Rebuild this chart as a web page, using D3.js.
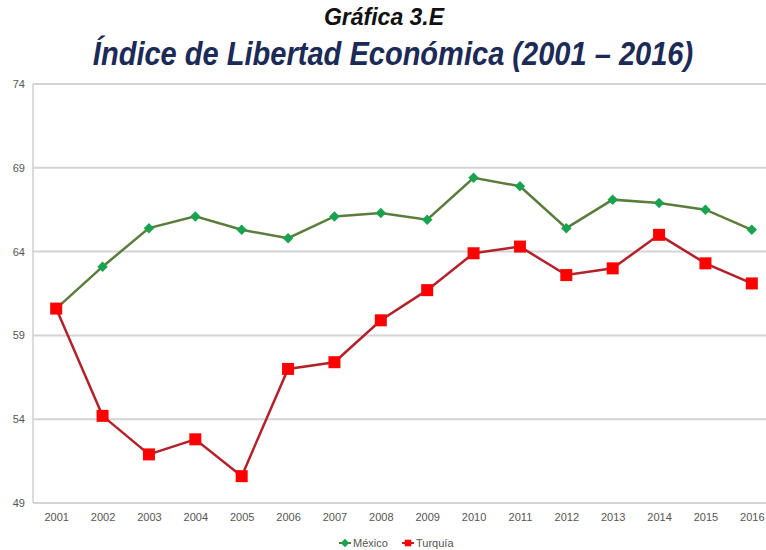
<!DOCTYPE html>
<html>
<head>
<meta charset="utf-8">
<script src="https://cdn.jsdelivr.net/npm/d3@7"></script>
<style>
  body { margin: 0; background: #fff; }
  svg { display: block; }
  .tick text { fill: #555; font-family: "Liberation Sans", Arial, sans-serif; font-size: 11px; }
</style>
</head>
<body>
<div id="chart"></div>
<script>
const years = ['2001','2002','2003','2004','2005','2006','2007','2008','2009','2010','2011','2012','2013','2014','2015','2016'];
const mexico = [60.6, 63.1, 65.4, 66.1, 65.3, 64.8, 66.1, 66.3, 65.9, 68.4, 67.9, 65.4, 67.1, 66.9, 66.5, 65.3];
const turquia = [60.6, 54.2, 51.9, 52.8, 50.6, 57.0, 57.4, 59.9, 61.7, 63.9, 64.3, 62.6, 63.0, 65.0, 63.3, 62.1];
const yTicks = [49, 54, 59, 64, 69, 74];

const width = 766, height = 550;
const margin = {top: 84, right: -9, bottom: 47, left: 33};

const svg = d3.select('#chart').append('svg')
  .attr('width', width).attr('height', height);

const x = d3.scalePoint()
  .domain(years)
  .range([margin.left, width - margin.right])
  .padding(0.5);

const y = d3.scaleLinear()
  .domain([49, 74])
  .range([height - margin.bottom, margin.top]);

// grid
svg.append('g')
  .selectAll('line')
  .data(yTicks)
  .enter()
  .append('line')
  .attr('x1', margin.left).attr('x2', width)
  .attr('y1', d => y(d)).attr('y2', d => y(d))
  .attr('stroke', '#d4d4d4')
  .attr('stroke-width', 2)

svg.append('line')
  .attr('x1', margin.left).attr('x2', margin.left)
  .attr('y1', y(74)).attr('y2', y(49))
  .attr('stroke', '#cfcfcf').attr('stroke-width', 1.5)

// axes
svg.append('g')
  .attr('transform', `translate(${margin.left - 8},0)`)
  .call(d3.axisLeft(y).tickValues(yTicks).tickSize(0).tickPadding(0))
  .call(g => g.select('.domain').remove())

svg.append('g')
  .attr('transform', `translate(0,${y(49) + 8})`)
  .call(d3.axisBottom(x).tickSize(0).tickPadding(2))
  .call(g => g.select('.domain').remove())

const line = d3.line()
  .x((d, i) => x(years[i]))
  .y(d => y(d));

// Mexico
svg.append('path')
  .datum(mexico)
  .attr('d', line)
  .attr('fill', 'none')
  .attr('stroke', '#5b7d3c')
  .attr('stroke-width', 2.5)

svg.append('g')
  .selectAll('path')
  .data(mexico)
  .enter()
  .append('path')
  .attr('d', d3.symbol().type(d3.symbolDiamond2).size(70))
  .attr('transform', (d, i) => `translate(${x(years[i])},${y(d)})`)
  .attr('fill', '#17a350')

// Turquia
svg.append('path')
  .datum(turquia)
  .attr('d', line)
  .attr('fill', 'none')
  .attr('stroke', '#b3222b')
  .attr('stroke-width', 2.5)

svg.append('g')
  .selectAll('rect')
  .data(turquia)
  .enter()
  .append('rect')
  .attr('x', (d, i) => x(years[i]) - 6)
  .attr('y', d => y(d) - 6)
  .attr('width', 12).attr('height', 12)
  .attr('fill', '#ff0000')

// titles
svg.append('text')
  .text('Gráfica 3.E')
  .attr('x', 384).attr('y', 25)
  .attr('text-anchor', 'middle')
  .attr('font-family', '"Liberation Sans", Arial, sans-serif')
  .attr('font-weight', 'bold').attr('font-style', 'italic')
  .attr('font-size', 23)
  .attr('fill', '#111')

// condensed look: squeeze the title horizontally
svg.append('text')
  .text('Índice de Libertad Económica (2001 – 2016)')
  .attr('transform', 'translate(393,65) scale(0.88,1)')
  .attr('text-anchor', 'middle')
  .attr('font-family', '"Liberation Sans", Arial, sans-serif')
  .attr('font-weight', 'bold').attr('font-style', 'italic')
  .attr('font-size', 33)
  .attr('fill', '#1c2a57')

// legend
const legend = svg.append('g').attr('transform', 'translate(345,543)')
const items = [
  {name: 'México', line: '#5b7d3c', fill: '#17a350', shape: 'diamond'},
  {name: 'Turquía', line: '#b3222b', fill: '#ff0000', shape: 'square'}
];
const li = legend.selectAll('g').data(items).enter().append('g')
  .attr('transform', (d, i) => `translate(${i * 63},0)`)
li.append('line')
  .attr('x1', -6).attr('x2', 6)
  .attr('stroke', d => d.line).attr('stroke-width', 2)
li.append('path')
  .attr('d', d => d3.symbol().type(d.shape == 'diamond' ? d3.symbolDiamond2 : d3.symbolSquare2).size(d.shape == 'diamond' ? 45 : 55)())
  .attr('fill', d => d.fill)
li.append('text')
  .text(d => d.name)
  .attr('x', 8).attr('y', 4)
  .attr('font-family', '"Liberation Sans", Arial, sans-serif')
  .attr('font-size', 11)
  .attr('fill', '#555')
</script>
</body>
</html>
